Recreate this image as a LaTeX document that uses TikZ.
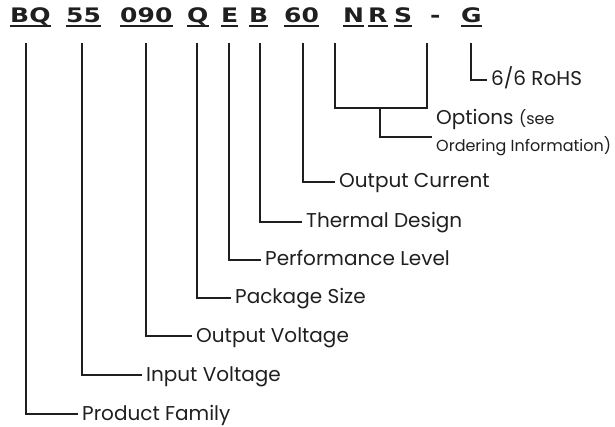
\documentclass[tikz,border=0pt]{standalone}
\usepackage{fontspec}
\setmainfont{Poppins}
\newfontfamily\codefont{DejaVu Sans}[FakeStretch=1.25]
\usepackage{xcolor}

\begin{document}
\begin{tikzpicture}[x=1pt, y=-1pt,
  code/.style={font=\codefont\bfseries\fontsize{20}{20}\selectfont, inner sep=0pt, anchor=base west, text=black!88},
  lbl/.style={font=\fontsize{20}{24}\selectfont, anchor=west, inner xsep=4pt, inner ysep=0pt, text height=14pt, text depth=2pt, text=black!88},
  uline/.style={line width=1.8pt, draw=black!88},
  link/.style={line width=2pt, draw=black!88}]
\useasboundingbox (0,0) rectangle (615,427);
\node[code] (bq) at (10,23) {BQ};
\node[code] (vin) at (66,23) {55};
\node[code] (vout) at (120,23) {090};
\node[code] (pkg) at (187,23) {Q};
\node[code] (perf) at (221,23) {E};
\node[code] (therm) at (249,23) {B};
\node[code] (iout) at (284,23) {60};
\node[code] (optn) at (343,23) {N};
\node[code] (optr) at (368,23) {R};
\node[code] (opts) at (394,23) {S};
\node[code] (dash) at (430,23) {-};
\node[code] (rohs) at (461,23) {G};
\foreach \c in {bq,vin,vout,pkg,perf,therm,iout,optn,optr,opts,rohs}
  \draw[uline] ([yshift=-3pt]\c.base west) -- ([yshift=-3pt]\c.base east);
\coordinate (bqtop) at (26,43);
\coordinate (vintop) at (82,43);
\coordinate (vouttop) at (146,43);
\coordinate (pkgtop) at (197,43);
\coordinate (perftop) at (229,43);
\coordinate (thermtop) at (260,43);
\coordinate (iouttop) at (303,43);
\coordinate (ntop) at (335,43);
\coordinate (stop) at (427,43);
\coordinate (nbot) at (335,108);
\coordinate (sbot) at (427,108);
\coordinate (nrs) at (380,108);
\coordinate (rohstop) at (471,43);
\node[lbl] (fam) at (78,414) {Product Family};
\draw[link] (bqtop) |- (fam.west);
\node[lbl] (vinl) at (142,375) {Input Voltage};
\draw[link] (vintop) |- (vinl.west);
\node[lbl] (voutl) at (192,336) {Output Voltage};
\draw[link] (vouttop) |- (voutl.west);
\node[lbl] (pkgl) at (231,298) {Package Size};
\draw[link] (pkgtop) |- (pkgl.west);
\node[lbl] (perfl) at (261,260) {Performance Level};
\draw[link] (perftop) |- (perfl.west);
\node[lbl] (therml) at (302,222) {Thermal Design};
\draw[link] (thermtop) |- (therml.west);
\node[lbl] (ioutl) at (335,182) {Output Current};
\draw[link] (iouttop) |- (ioutl.west);
\node[lbl, anchor=base west, text height=16pt, text depth=4pt] (optl) at (432,125) {Options {\fontsize{16}{18}\selectfont(see}};
\node[lbl, anchor=base west, font=\fontsize{16}{18}\selectfont, text height=15pt, text depth=4pt] (ordl) at (432,152) {Ordering Information)};
\draw[link] (ntop) -- (nbot) -- (sbot) -- (stop);
\draw[link] (nrs) |- (ordl.north west);
\node[lbl] (rohsl) at (487,80) {6/6 RoHS};
\draw[link] (rohstop) |- (rohsl.west);
\end{tikzpicture}
\end{document}
